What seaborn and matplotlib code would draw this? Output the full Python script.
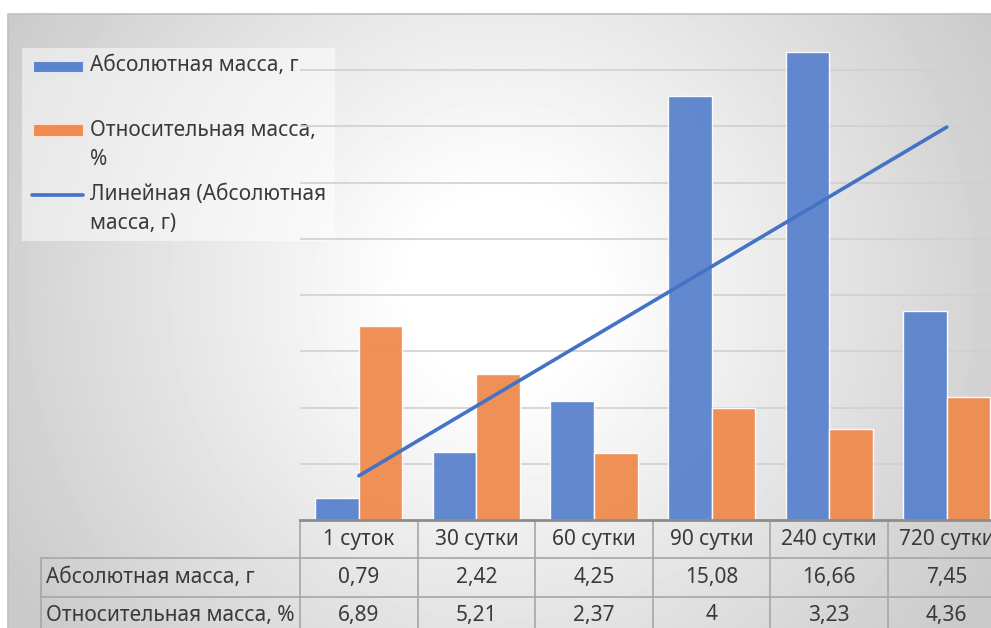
import numpy as np
import pandas as pd
import matplotlib
matplotlib.use("Agg")
import matplotlib.pyplot as plt
from matplotlib.patches import Rectangle
import seaborn as sns

# ── data ──────────────────────────────────────────────────────────────────────
categories = ["1 суток", "30 сутки", "60 сутки", "90 сутки", "240 сутки", "720 сутки"]
abs_mass = [0.79, 2.42, 4.25, 15.08, 16.66, 7.45]
rel_mass = [6.89, 5.21, 2.37, 4, 3.23, 4.36]
series_names = ["Абсолютная масса, г", "Относительная масса, %"]
legend_labels = ["Абсолютная масса, г", "Относительная масса,\n%",
                 "Линейная (Абсолютная\nмасса, г)"]

# ── style ─────────────────────────────────────────────────────────────────────
sns.set_theme(style="white")
plt.rcParams["font.family"] = ["Noto Sans", "DejaVu Sans"]
BLUE = "#5A83CD"
ORANGE = "#EF8B4E"
LINE = "#4472C4"
TXT = "#3a3a3a"
GRID = "#a6a6a6"
FS = 15

W, H = 991, 628
fig = plt.figure(figsize=(W / 100, H / 100), dpi=100)

# background: radial gradient, chart border, legend box, table frame (pixel coords)
bg = fig.add_axes([0, 0, 1, 1], zorder=-1)
bg.set_xlim(0, W)
bg.set_ylim(H, 0)
bg.axis("off")
yy, xx = np.mgrid[14:H, 8:W]
d = np.hypot(xx - 500, yy - 290)
shade = 1 - 0.21 * np.clip((d - 90) / 480, 0, 1)
bg.imshow(shade, cmap="gray", vmin=0, vmax=1, extent=(8, W, H, 14),
          aspect="auto", interpolation="bilinear")
bg.plot([8, 8, W], [H, 14, 14], color="#bfbfbf", lw=1.2)
bg.add_patch(Rectangle((22, 48), 313, 193, facecolor="white", alpha=0.5,
                       edgecolor="none"))
for y in (558, 597):
    bg.plot([41, W], [y, y], color=GRID, lw=1.2)
bg.plot([41, 41], [558, H], color=GRID, lw=1.2)
for y, name in zip((578, 615), series_names):
    bg.text(46, y, name, ha="left", va="center", fontsize=FS, color=TXT)

# legend swatches
bg.add_patch(Rectangle((33, 61), 50, 11, facecolor=BLUE,
                       edgecolor="#dde6f5", lw=0.8))
bg.add_patch(Rectangle((33, 124), 50, 12, facecolor=ORANGE,
                       edgecolor="#fbe3d4", lw=0.8))
bg.plot([32, 83], [195, 195], color=LINE, lw=2.6, solid_capstyle="round")
for y, lab in zip((66, 145, 209), legend_labels):
    bg.text(90, y, lab, ha="left", va="center", fontsize=FS, color=TXT,
            linespacing=1.5)

# ── main plot ────────────────────────────────────────────────────────────────
ax = fig.add_axes([300 / W, (H - 520) / H, 705.6 / W, 506 / H])
ax.patch.set_alpha(0)

df = pd.DataFrame({
    "cat": categories * 2,
    "val": abs_mass + rel_mass,
    "series": [series_names[0]] * 6 + [series_names[1]] * 6,
})
sns.barplot(data=df, x="cat", y="val", hue="series", order=categories,
            palette=[BLUE, ORANGE], width=0.74, saturation=1, alpha=0.95,
            errorbar=None, edgecolor=(1, 1, 1, 0.6), linewidth=1,
            legend=False, ax=ax)

sns.regplot(x=np.arange(len(abs_mass)), y=np.array(abs_mass), scatter=False,
            ci=None, truncate=True, color=LINE, line_kws={"lw": 2.6}, ax=ax)

ax.set_xlim(-0.5, 5.5)
ax.set_ylim(0, 18)
ax.set_yticks(range(2, 17, 2))
ax.yaxis.grid(True, color="#d0d0d0", lw=1.2)
ax.set_axisbelow(True)
ax.tick_params(left=False, labelleft=False, bottom=False, labelbottom=False)
ax.set_xlabel("")
ax.set_ylabel("")
for s in ("top", "left", "right"):
    ax.spines[s].set_visible(False)
ax.spines["bottom"].set_color("#8c8c8c")
ax.spines["bottom"].set_linewidth(2)

# data table under the plot
trans = ax.get_xaxis_transform()
def ay(px):
    return (520 - px) / 506

for b in np.arange(-0.5, len(categories), 1):
    ax.plot([b, b], [0, ay(H + 5)], transform=trans, color=GRID, lw=1.2,
            clip_on=False)
for i, c in enumerate(categories):
    ax.text(i, ay(540), c, transform=trans, ha="center", va="center",
            fontsize=FS, color=TXT, clip_on=False)
    ax.text(i, ay(578), f"{abs_mass[i]:g}".replace(".", ","), transform=trans,
            ha="center", va="center", fontsize=FS, color=TXT, clip_on=False)
    ax.text(i, ay(615), f"{rel_mass[i]:g}".replace(".", ","), transform=trans,
            ha="center", va="center", fontsize=FS, color=TXT, clip_on=False)

fig.savefig("out.png", dpi=100)
